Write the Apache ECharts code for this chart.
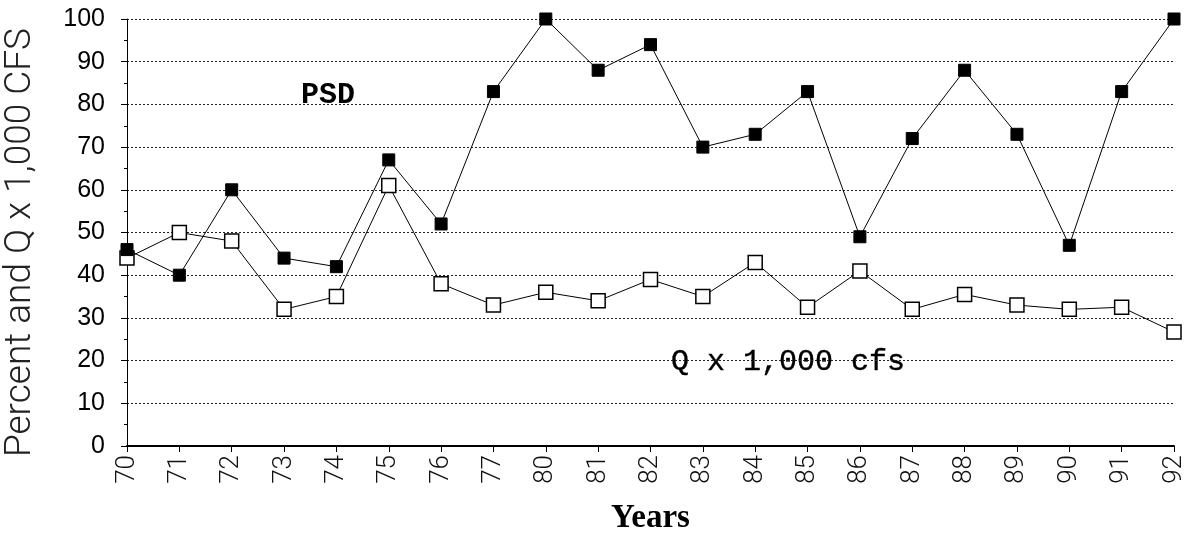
<!DOCTYPE html>
<html>
<head>
<meta charset="utf-8">
<script src="https://cdn.jsdelivr.net/npm/echarts@6/dist/echarts.min.js"></script>
<style>html,body{margin:0;padding:0;background:#fff}#c{width:1185px;height:540px}</style>
</head>
<body>
<div id="c"></div>
<script>
const years = ['70','71','72','73','74','75','76','77','80','81','82','83','84','85','86','87','88','89','90','91','92'];
const psd = [46,40,60,44,42,67,52,83,100,88,94,70,73,83,49,72,88,73,47,83,100];
const qcfs = [44,50,48,32,35,61,38,33,36,34,39,35,43,32.5,41,32,35.5,33,32,32.5,26.7];
const yTicks = [0,10,20,30,40,50,60,70,80,90,100];

const chart = echarts.init(document.getElementById('c'));
chart.setOption({
  backgroundColor: '#fff',
  animation: false,
  grid: {left: 127, right: 11, top: 19, bottom: 94, outerBoundsMode: 'none', containLabel: false},
  xAxis: {
    type: 'category', data: years, boundaryGap: false,
    name: 'Years', nameLocation: 'middle', nameGap: 56,
    nameTextStyle: {fontFamily: 'Liberation Serif', fontWeight: 'bold', fontSize: 33, color: '#000'},
    axisLine: {lineStyle: {color: '#000', width: 2}},
    axisTick: {alignWithLabel: true, length: 6, lineStyle: {color: '#000', width: 1}},
    axisLabel: {rotate: 90, margin: 9, fontFamily: 'Roboto', fontWeight: 300, fontSize: 26, color: '#111'},
    splitLine: {show: false}
  },
  yAxis: {
    type: 'value', min: 0, max: 100, interval: 10,
    name: 'Percent and Q x 1,000 CFS', nameLocation: 'middle', nameGap: 88,
    nameTextStyle: {fontFamily: 'Roboto', fontWeight: 300, fontSize: 37, color: '#222', padding: [0, 20, 0, 0]},
    axisLine: {show: true, lineStyle: {color: '#000', width: 1}},
    axisTick: {show: true, length: 6, lineStyle: {color: '#000'}},
    minorTick: {show: true, splitNumber: 2, length: 3, lineStyle: {color: '#000'}},
    axisLabel: {fontFamily: 'Liberation Sans', fontSize: 25, color: '#000', margin: 22,
      formatter: v => yTicks.includes(v) ? String(v) : ''},
    splitLine: {show: true, lineStyle: {color: '#222', type: [2, 2], width: 1}}
  },
  series: [
    {
      name: 'PSD', type: 'line', data: psd,
      symbol: 'rect', symbolSize: 12,
      itemStyle: {color: '#000', borderColor: '#000', borderWidth: 1},
      lineStyle: {color: '#000', width: 1}, z: 3
    },
    {
      name: 'Q', type: 'line', data: qcfs,
      symbol: 'rect', symbolSize: 14,
      itemStyle: {color: '#fff', borderColor: '#000', borderWidth: 1.5},
      lineStyle: {color: '#000', width: 1}, z: 2
    }
  ],
  graphic: [
    {type: 'text', x: 301, y: 95, style: {text: 'PSD', font: 'bold 30px "Liberation Mono"', fill: '#000', verticalAlign: 'middle'}},
    {type: 'text', x: 671, y: 362, style: {text: 'Q x 1,000 cfs', font: '30px "Liberation Mono"', fill: '#000', verticalAlign: 'middle', stroke: '#000', lineWidth: 0.4}}
  ]
});
</script>
</body>
</html>
